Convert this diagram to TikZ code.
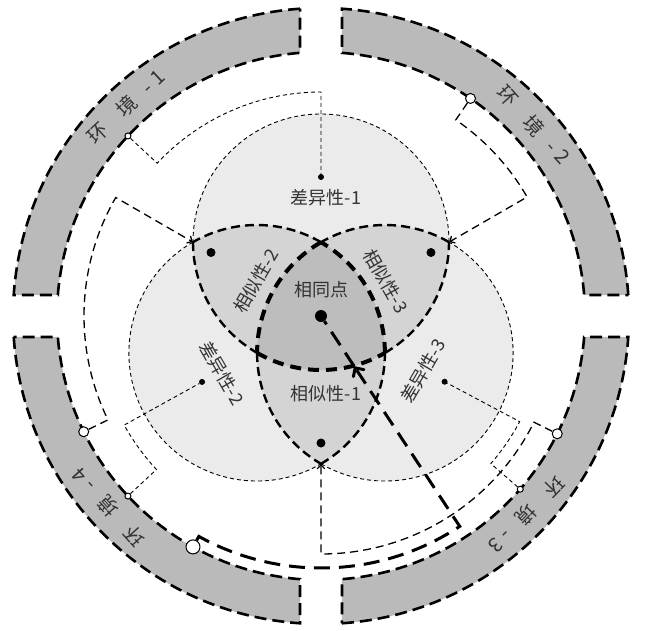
\documentclass[tikz,border=0pt]{standalone}
\usepackage{fontspec}
\setmainfont{Noto Sans CJK SC}
\usetikzlibrary{arrows}

\begin{document}
\begin{tikzpicture}[x=1pt,y=1pt,>=angle 90,
    every node/.style={text=black!80, font=\fontsize{18}{20}\selectfont},
    ringlabel/.style={font=\fontsize{20}{22}\selectfont},
    ring/.style={fill=black!27, line width=2.6pt, dash pattern=on 12pt off 6pt},
    thinline/.style={line width=0.9pt, dash pattern=on 4pt off 3pt},
    lensline/.style={line width=2.4pt, dash pattern=on 9pt off 5pt},
    sameline/.style={line width=4pt, dash pattern=on 11pt off 7pt},
    simlink/.style={line width=1.3pt, dash pattern=on 8pt off 5pt},
    mainlink/.style={line width=3pt, dash pattern=on 16pt off 9pt},
    dot/.style={circle, fill=black, inner sep=0pt, minimum size=#1},
    hole/.style={circle, draw, fill=white, line width=1pt, inner sep=0pt, minimum size=#1}]
  \newcommand*{\Radius}{128}
  \newcommand*{\Shift}{74}
  \newcommand*{\RingIn}{264}
  \newcommand*{\RingOut}{308}
  \newcommand*{\RingText}[1]{环\hspace{1em}境\hspace{.7em}-\hspace{.3em}#1}
  \useasboundingbox (-321,-314) rectangle (330,316);
  \foreach \a/\n/\t in {0/2/42, 90/1/133, 180/4/222, 270/3/316} {
    \filldraw[ring] (3.9+\a:\RingOut) arc[start angle=3.9+\a, end angle=86.1+\a, radius=\RingOut]
      -- (85.44+\a:\RingIn) arc[start angle=85.44+\a, end angle=4.56+\a, radius=\RingIn] -- cycle;
    \node[ringlabel, rotate=\t-90] (E\n) at (\t:286) {\RingText{\n}};
  }
  \foreach \a in {0,120,240}
    \fill[black!8] (90+\a:\Shift) circle[radius=\Radius];
  \begin{scope}
    \clip (90:\Shift) circle[radius=\Radius];
    \fill[black!17] (210:\Shift) circle[radius=\Radius];
    \fill[black!17] (330:\Shift) circle[radius=\Radius];
  \end{scope}
  \begin{scope}
    \clip (210:\Shift) circle[radius=\Radius];
    \fill[black!17] (330:\Shift) circle[radius=\Radius];
  \end{scope}
  \begin{scope}
    \clip (90:\Shift) circle[radius=\Radius];
    \clip (210:\Shift) circle[radius=\Radius];
    \fill[black!26] (330:\Shift) circle[radius=\Radius];
  \end{scope}
  \foreach \a in {0,120,240} {
    \draw[thinline] (90+\a:\Shift) ++(\a:\Radius) arc[start angle=\a, delta angle=180, radius=\Radius];
    \draw[lensline] (90+\a:\Shift) ++(180+\a:\Radius) arc[start angle=180+\a, delta angle=60, radius=\Radius];
    \draw[lensline] (90+\a:\Shift) ++(300+\a:\Radius) arc[start angle=300+\a, delta angle=60, radius=\Radius];
    \draw[sameline] (90+\a:\Shift) ++(240+\a:\Radius) arc[start angle=240+\a, delta angle=60, radius=\Radius];
  }
  \node[dot=6pt] (D1) at (90:139) {};
  \node[dot=6pt] (D2) at (209:136) {};
  \node[dot=6pt] (D3) at (-28:140) {};
  \node[dot=9pt] (S1) at (270:127) {};
  \node[dot=9pt] (S2) at (150:127) {};
  \node[dot=9pt] (S3) at (30:127) {};
  \node[dot=12pt] (O) at (0,0) {};
  \node[hole=6pt] (H1) at (137:\RingIn) {};
  \node[hole=6pt] (H2) at (223:\RingIn) {};
  \node[hole=6pt] (H3) at (-41:\RingIn) {};
  \node[hole=10pt] (H4) at (55.5:\RingIn) {};
  \node[hole=10pt] (H5) at (206:\RingIn) {};
  \node[hole=10pt] (H6) at (-26.5:\RingIn) {};
  \node[hole=14pt] (H7) at (241:\RingIn) {};
  \coordinate (P1) at (137:224);
  \coordinate (P2) at (223:225);
  \coordinate (P3) at (-41:225);
  \coordinate (Q1) at (55.5:238);
  \coordinate (Q2) at (206:237);
  \coordinate (Q3) at (-26.5:238);
  \coordinate (X1) at (30:148);
  \coordinate (X2) at (150:148);
  \coordinate (X3) at (270:148);
  \coordinate (M) at (241:252);
  \coordinate (B) at (303.4:60);
  \draw[thinline] (H1) -- (P1) arc[start angle=137, end angle=90, radius=224] -- (D1);
  \draw[thinline] (H2) -- (P2) arc[start angle=223, end angle=209, radius=225] -- (D2);
  \draw[thinline] (H3) -- (P3) arc[start angle=-41, end angle=-28, radius=225] -- (D3);
  \draw[simlink,->] (H4) -- (Q1) arc[start angle=55.5, end angle=30, radius=238] -- (X1);
  \draw[simlink,->] (H5) -- (Q2) arc[start angle=206, end angle=150, radius=237] -- (X2);
  \draw[simlink,->] (H6) -- (Q3) arc[start angle=-26.5, end angle=-90, radius=238] -- (X3);
  \draw[mainlink,->] (H7) -- (M) arc[start angle=241, end angle=303.4, radius=252] -- (B);
  \draw[mainlink] (B) -- (O);
  \node (T1) at (5,118) {差异性-1};
  \node (T0) at (1,26) {相同点};
  \node (T2) at (5,-78) {相似性-1};
  \node[rotate=60] (T3) at (-65,35) {相似性-2};
  \node[rotate=-60] (T4) at (65,35) {相似性-3};
  \node[rotate=-60] (T5) at (-99,-57) {差异性-2};
  \node[rotate=60] (T6) at (102,-55) {差异性-3};
\end{tikzpicture}
\end{document}
